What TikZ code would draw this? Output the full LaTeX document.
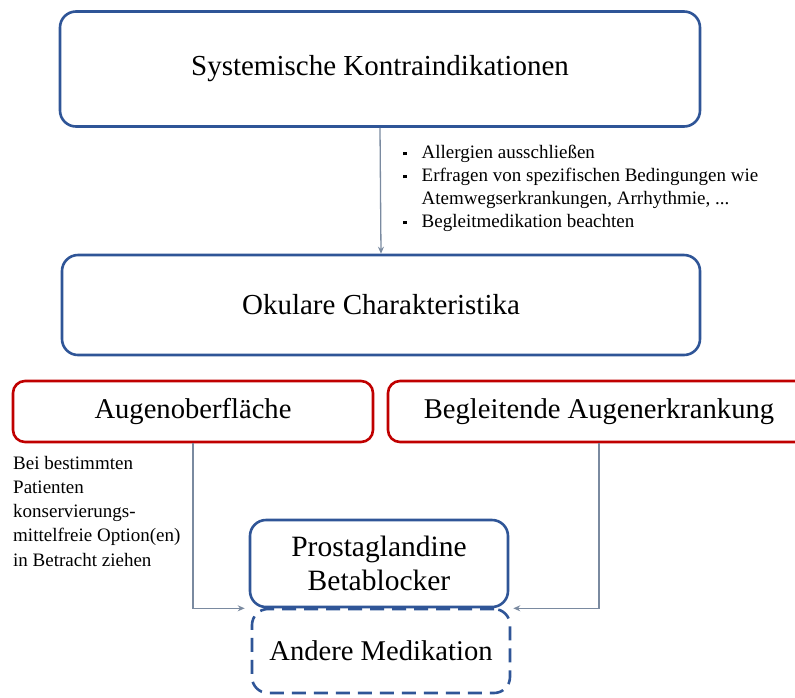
\documentclass[tikz,border=0pt]{standalone}
\usepackage{fontspec}
\setmainfont{Liberation Serif}
\usetikzlibrary{arrows.meta,calc}
\definecolor{boxblue}{HTML}{2F5597}
\definecolor{boxred}{HTML}{C00000}
\definecolor{conngray}{HTML}{7A8AA0}
\tikzset{
  bluebox/.style={draw=boxblue,line width=2.6pt,rounded corners=16pt,fill=white,align=center},
  redbox/.style={draw=boxred,line width=2.6pt,rounded corners=12pt,fill=white,align=center},
  conn/.style={draw=conngray,line width=1.3pt,-{Stealth[length=7pt,width=6pt]}},
  bigtext/.style={font=\fontsize{29}{33}\selectfont},
  midtext/.style={font=\fontsize{28.6}{33}\selectfont},
  smalltext/.style={align=left,inner sep=0pt},
}
\newcommand{\sqbullet}{\raisebox{3pt}{\rule{3.5pt}{3.5pt}}}
\begin{document}
\begin{tikzpicture}[x=1pt,y=-1pt]
\useasboundingbox (0,0) rectangle (795,697);
\clip (0,0) rectangle (795,697);
\node[bluebox,bigtext,minimum width=640pt,minimum height=115pt] (top) at (380,69) {Systemische Kontraindikationen};
\node[bluebox,bigtext,minimum width=638pt,minimum height=100pt] (okul) at (381,305) {Okulare Charakteristika};
\node[redbox,midtext,minimum width=360pt,minimum height=61pt] (aug) at (193,411.5) {Augenoberfläche};
\node[redbox,midtext,minimum width=422pt,minimum height=61pt] (beg) at (599,411.5) {Begleitende Augenerkrankung};
\node[bluebox,midtext,dashed,dash pattern=on 14pt off 8pt,minimum width=258pt,minimum height=84pt] (andere) at (381,651) {Andere Medikation};
\node[bluebox,font=\fontsize{29.5}{34}\selectfont,minimum width=258pt,minimum height=87pt] (prost) at (379,563.5) {Prostaglandine\\Betablocker};
\node[smalltext,font=\fontsize{19}{23}\selectfont,anchor=north west] (bul) at (403,142) {%
\begin{tabular}{@{}l@{\hspace{15pt}}l@{}}
\sqbullet & Allergien ausschließen\\
\sqbullet & Erfragen von spezifischen Bedingungen wie\\
 & Atemwegserkrankungen, Arrhythmie, ...\\
\sqbullet & Begleitmedikation beachten
\end{tabular}};
\node[smalltext,font=\fontsize{19}{24.2}\selectfont,anchor=north west] (note) at (13,456) {Bei bestimmten\\Patienten\\konservierungs-\\mittelfreie Option(en)\\in Betracht ziehen};
\draw[conn] (top.south) -- (okul.north);
\draw[conn,shorten >=4pt] (aug.south) |- (prost.south west);
\draw[conn,shorten >=4pt] (beg.south) |- (prost.south east);
\end{tikzpicture}
\end{document}
